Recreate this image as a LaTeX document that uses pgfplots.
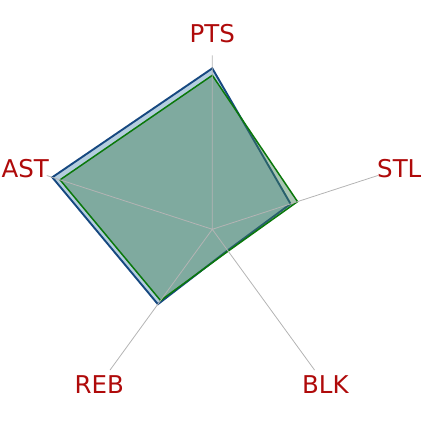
\documentclass[border=0pt]{standalone}
\usepackage{fontspec}
\setmainfont{DejaVu Sans}
\usepackage{pgfplots}
\usepgfplotslibrary{polar}
\pgfplotsset{compat=1.18}
\definecolor{serblue}{RGB}{22,72,128}
\definecolor{serbluefill}{RGB}{88,144,182}
\definecolor{sergreen}{RGB}{10,120,10}
\definecolor{sergreenfill}{RGB}{62,127,84}
\definecolor{lblred}{RGB}{175,10,10}
\definecolor{spoke}{RGB}{180,180,180}
\tikzset{lbl/.style={text=lblred, font=\fontsize{24.5}{28}\selectfont, inner sep=0pt}}

\begin{document}
\begin{tikzpicture}
\useasboundingbox (-212.3pt,-193.7pt) rectangle (210.7pt,229.3pt);
\begin{polaraxis}[
    at={(0,0)}, anchor=origin,
    width=348pt, height=348pt,
    scale only axis,
    ymin=0, ymax=1,
    xtick={18,90,162,234,306},
    xticklabels={},
    ytick=\empty,
    major tick length=0pt,
    xmajorgrids,
    ymajorgrids=false,
    grid style={spoke, line width=0.8pt},
    axis line style={draw=none},
    axis on top,
    clip=false,
]
% player A (blue)
\addplot[draw=serblue, line width=1.9pt, fill=serbluefill, fill opacity=0.45] coordinates {
    (90,0.925) (18,0.473) (306,0.150) (234,0.532) (162,0.967)
} -- cycle;
% player B (green)
\addplot[draw=sergreen, line width=1.5pt, fill=sergreenfill, fill opacity=0.45] coordinates {
    (90,0.885) (18,0.515) (306,0.155) (234,0.506) (162,0.920)
} -- cycle;

\node[lbl] at (axis cs:90,1.125) {PTS};
\node[lbl] at (axis cs:18,1.13) {STL};
\node[lbl] at (axis cs:306,1.105) {BLK};
\node[lbl] at (axis cs:234,1.105) {REB};
\node[lbl] at (axis cs:162,1.13) {AST};
\end{polaraxis}
\end{tikzpicture}
\end{document}
